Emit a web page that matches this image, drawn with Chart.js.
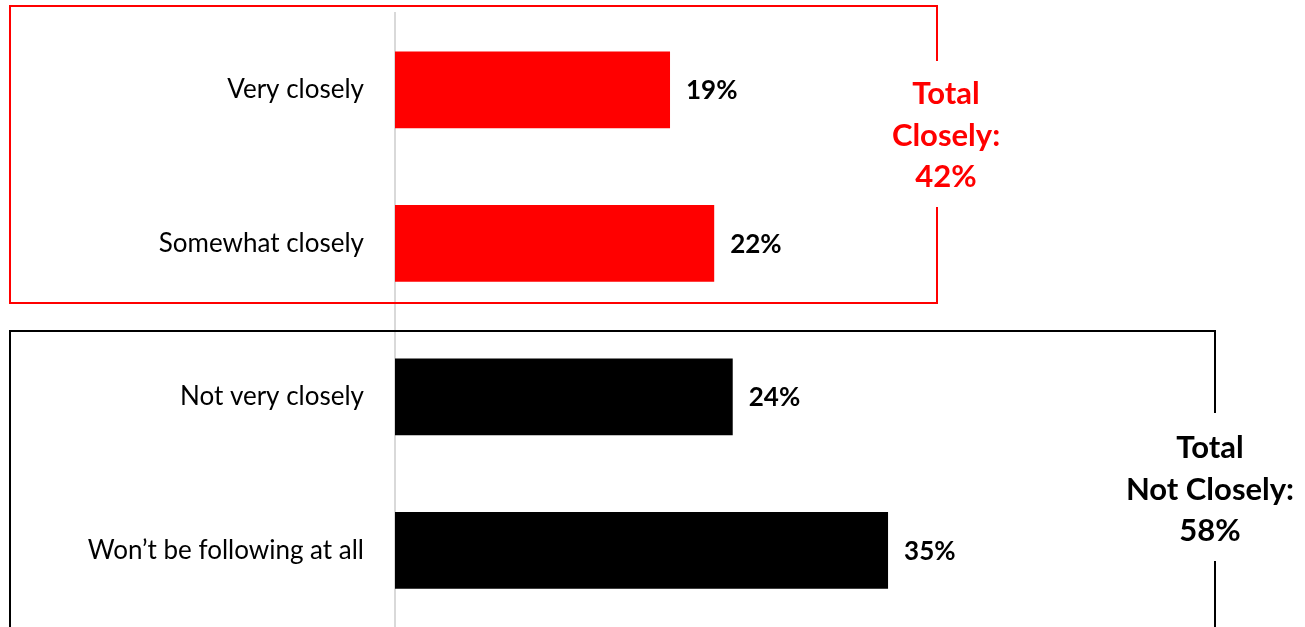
<!DOCTYPE html>
<html>
<head>
<meta charset="utf-8">
<script src="https://cdn.jsdelivr.net/npm/chart.js@4"></script>
<style>
    html, body { margin: 0; padding: 0; background: #fff; overflow: hidden; }
    canvas { display: block; }
</style>
</head>
<body>
<canvas id="follow-chart" width="1305" height="627"></canvas>
<script>
const categories = ['Very closely', 'Somewhat closely', 'Not very closely', 'Won\u2019t be following at all'];
const shares = [19.3, 22.4, 23.7, 34.6];
const barColors = ['#ff0000', '#ff0000', '#000000', '#000000'];
const groupTitles = [['Total', 'Closely:'], ['Total', 'Not Closely:']];

const FONT = 'Lato, "Open Sans", sans-serif';

const closely = Math.round(shares[0] + shares[1]);
const notClosely = Math.round(shares[2] + shares[3]);

// value labels to the right of each bar
const valueLabels = {
    id: 'valueLabels',
    afterDatasetsDraw(chart) {
        const { ctx } = chart;
        const meta = chart.getDatasetMeta(0);
        ctx.save();
        ctx.font = 'bold 26px ' + FONT;
        ctx.fillStyle = '#000';
        ctx.textAlign = 'left';
        ctx.textBaseline = 'middle';
        meta.data.forEach((bar, i) => {
            ctx.fillText(Math.round(shares[i]) + '%', bar.x + 16, bar.y + 1);
        });
        ctx.restore();
    },
};

// group boxes with the totals breaking the right edge
const groupBoxes = {
    id: 'groupBoxes',
    afterDraw(chart) {
        const { ctx } = chart;
        const drawBox = (color, left, top, right, bottom, gapTop, gapBottom, textX, textY, lines) => {
            ctx.save();
            ctx.strokeStyle = color;
            ctx.lineWidth = 2;
            ctx.beginPath();
            ctx.moveTo(right, gapTop);
            ctx.lineTo(right, top);
            ctx.lineTo(left, top);
            ctx.lineTo(left, bottom);
            ctx.lineTo(right, bottom);
            ctx.lineTo(right, gapBottom);
            ctx.stroke();
            ctx.fillStyle = color;
            ctx.font = 'bold 31px ' + FONT;
            ctx.textAlign = 'center';
            ctx.textBaseline = 'middle';
            lines.forEach((t, i) => ctx.fillText(t, textX, textY + i * 41.5));
            ctx.restore();
        };
        drawBox('#ff0000', 10, 6, 937, 303, 61, 207, 946, 94,
            [...groupTitles[0], closely + '%']);
        drawBox('#000000', 10, 331, 1215, 640, 413, 561, 1210, 448,
            [...groupTitles[1], notClosely + '%']);
    },
};

new Chart(document.getElementById('follow-chart'), {
    type: 'bar',
    data: {
        labels: categories,
        datasets: [{
            data: shares,
            backgroundColor: barColors,
            barPercentage: 1,
            categoryPercentage: 0.5,
        }],
    },
    options: {
        indexAxis: 'y',
        responsive: false,
        animation: false,
        devicePixelRatio: 1,
        layout: { padding: { top: 13, right: 55, left: 0, bottom: 0 } },
        plugins: {
            legend: { display: false },
            tooltip: { enabled: false },
        },
        scales: {
            x: {
                display: false,
                min: 0,
                max: 60,
            },
            y: {
                afterFit: (scale) => {
                    scale.width = 395;
                    scale.paddingTop = 0;
                    scale.paddingBottom = 0;
                },
                grid: { display: false, drawTicks: false },
                border: { display: true, color: '#d9d9d9', width: 2 },
                ticks: {
                    padding: 31,
                    color: '#000',
                    font: { family: FONT, size: 26 },
                },
            },
        },
    },
    plugins: [valueLabels, groupBoxes],
});
</script>
</body>
</html>
